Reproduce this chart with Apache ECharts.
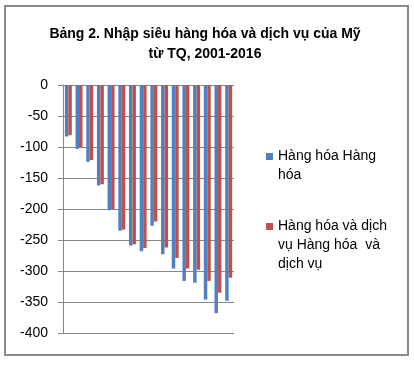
<!DOCTYPE html>
<html>
<head>
<meta charset="utf-8">
<script src="https://cdn.jsdelivr.net/npm/echarts@6/dist/echarts.min.js"></script>
<style>
  html, body { margin: 0; padding: 0; background: #fff; }
  #chart { width: 414px; height: 367px; }
</style>
</head>
<body>
<div id="chart"></div>
<script>
const categories = ['2001','2002','2003','2004','2005','2006','2007','2008','2009','2010','2011','2012','2013','2014','2015','2016'];
const goods = [-83, -103, -124, -162, -202, -235, -259, -268, -227, -273, -296, -316, -319, -346, -368, -348];
const goodsServices = [-81, -100, -121, -160, -200, -233, -257, -263, -220, -262, -279, -296, -298, -316, -335, -311];
const yTicks = { min: -400, max: 0, interval: 50 };
const seriesNames = ['Hàng hóa Hàng hóa', 'Hàng hóa và dịch vụ Hàng hóa và dịch vụ'];
const legendLines = {
  'Hàng hóa Hàng hóa': ['Hàng hóa Hàng', 'hóa'],
  'Hàng hóa và dịch vụ Hàng hóa và dịch vụ': ['Hàng hóa và dịch', 'vụ Hàng hóa  và', 'dịch vụ']
};
const titleText = 'Bảng 2. Nhập siêu hàng hóa và dịch vụ của Mỹ\ntừ TQ, 2001-2016';

const FONT = 'Liberation Sans, Arial, sans-serif';
const LH = 19;
const chart = echarts.init(document.getElementById('chart'), null, { renderer: 'canvas' });

// Blank lines above so the first real text line sits level with the icon
function legendText(name) {
  const lines = legendLines[name].slice();
  const n = lines.length;
  for (let i = 0; i < n - 1; i++) lines.unshift('\u00a0');
  return lines.join('\n');
}

function legendFor(name, left, iconCenterY) {
  const total = legendLines[name].length * 2 - 1;
  return {
    data: [name],
    orient: 'vertical',
    left: left,
    top: Math.round(iconCenterY - total * LH / 2),
    padding: 0,
    itemWidth: 7,
    itemHeight: 7,
    icon: 'rect',
    selectedMode: false,
    formatter: legendText,
    textStyle: { fontFamily: FONT, fontSize: 14, color: '#000', lineHeight: LH }
  };
}

chart.setOption({
  animation: false,
  backgroundColor: '#fff',
  textStyle: { fontFamily: FONT },
  title: {
    text: titleText,
    left: 205,
    textAlign: 'center',
    top: 24,
    padding: 0,
    textStyle: { fontFamily: FONT, fontSize: 14, fontWeight: 'bold', color: '#000', lineHeight: 20 }
  },
  graphic: [{
    type: 'rect', z: -1, silent: true,
    shape: { x: 5, y: 6, width: 403, height: 349 },
    style: { fill: 'none', stroke: '#8a8a8a', lineWidth: 2 }
  }],
  legend: [
    legendFor(seriesNames[0], 266, 156.5),
    legendFor(seriesNames[1], 266, 226)
  ],
  grid: { left: 63, right: 180, top: 85, bottom: 34, containLabel: false },
  xAxis: {
    type: 'category',
    data: categories,
    show: false
  },
  yAxis: {
    type: 'value',
    min: yTicks.min, max: yTicks.max, interval: yTicks.interval,
    axisLine: { show: true, lineStyle: { color: '#868686', width: 1 } },
    axisTick: { show: true, inside: false, length: 5, lineStyle: { color: '#868686' } },
    axisLabel: { margin: 15, fontFamily: FONT, fontSize: 14, color: '#000' },
    splitLine: { show: true, lineStyle: { color: '#868686', width: 1 } }
  },
  series: [
    { name: seriesNames[0], type: 'bar', data: goods, barGap: '0%', barCategoryGap: '35%',
      itemStyle: { color: '#4F81BD' } },
    { name: seriesNames[1], type: 'bar', data: goodsServices, barGap: '0%', barCategoryGap: '35%',
      itemStyle: { color: '#C0504D' } }
  ]
});
</script>
</body>
</html>
